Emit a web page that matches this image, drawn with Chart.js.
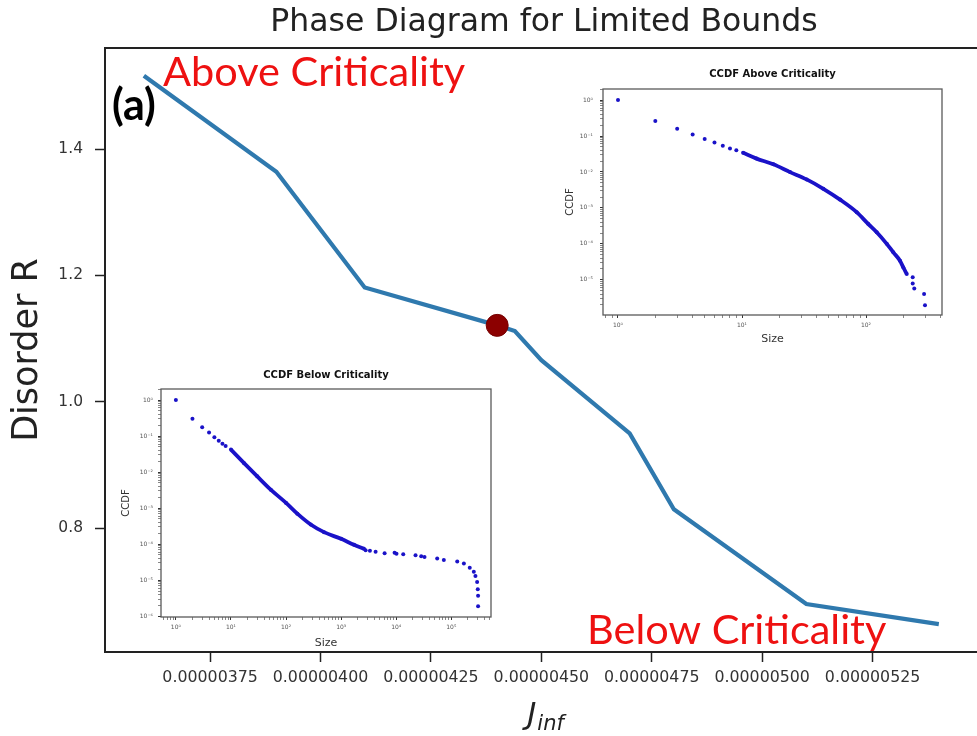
<!DOCTYPE html>
<html><head><meta charset="utf-8">
<script src="https://cdn.jsdelivr.net/npm/chart.js@4.4.1/dist/chart.umd.min.js"></script>
<style>
html,body{margin:0;padding:0;background:#fff;overflow:hidden;width:977px;height:736px;}
#wrap{position:relative;width:977px;height:736px;overflow:hidden;background:#fff;}
canvas{position:absolute;display:block;}
#main{left:0;top:0;}
#insA{left:548px;top:62px;}
#insB{left:112px;top:362px;}
</style></head><body>
<div id="wrap">
<canvas id="main" width="995" height="736"></canvas>
<canvas id="insA" width="425" height="288"></canvas>
<canvas id="insB" width="390" height="290"></canvas>
</div>
<script>
// ---------- main phase diagram ----------
const jInf      = [3.60e-6, 3.90e-6, 4.10e-6, 4.40e-6, 4.44e-6, 4.50e-6, 4.70e-6, 4.80e-6, 5.10e-6, 5.40e-6];
const disorderR = [1.516,   1.364,   1.181,   1.121,   1.112,   1.066,   0.950,   0.830,   0.680,   0.648];
const criticalJ = [4.40e-6];
const criticalR = [1.121];
const xTickValues = [3.75e-6, 4.00e-6, 4.25e-6, 4.50e-6, 4.75e-6, 5.00e-6, 5.25e-6];
const yTickValues = [0.8, 1.0, 1.2, 1.4];

// ---------- inset: CCDF above criticality ----------
const aboveSparseSize = [1, 2, 3, 4, 5, 6, 7, 8, 9];
const aboveSparseCcdf = [1, 0.26, 0.16, 0.11, 0.083, 0.066, 0.054, 0.045, 0.040];
const aboveDenseSize  = [10.2, 13.1, 17.9, 24.4, 33.2, 45.3, 61.7, 84.1, 104, 122, 147, 166, 188, 200, 213];
const aboveDenseCcdf  = [0.034, 0.0235, 0.0163, 0.0099, 0.0062, 0.0034, 0.0017, 7.6e-4, 3.6e-4, 2.1e-4, 1.0e-4, 5.8e-5, 3.4e-5, 2.2e-5, 1.45e-5];
const aboveTailSize   = [238, 238, 245, 294, 299];
const aboveTailCcdf   = [1.17e-5, 7.9e-6, 5.7e-6, 4.0e-6, 1.96e-6];

// ---------- inset: CCDF below criticality ----------
const belowSparseSize = [1, 2, 3, 4, 5, 6, 7, 8];
const belowSparseCcdf = [1, 0.30, 0.175, 0.125, 0.093, 0.074, 0.061, 0.053];
const belowDenseSize  = [10, 17.3, 30, 52.7, 100, 160, 280, 489, 1000, 1710, 2600];
const belowDenseCcdf  = [0.042, 0.0177, 0.0076, 0.00325, 1.39e-3, 7.0e-4, 3.5e-4, 2.15e-4, 1.40e-4, 9.6e-5, 7.4e-5];
const belowTailSize   = [2780, 3330, 4220, 6150, 9330, 10100, 13400, 22400, 28400, 32600, 55400, 73100, 128000, 169000, 216000, 256000, 274000, 294000, 302000, 306000, 306000];
const belowTailCcdf   = [6.8e-5, 6.5e-5, 6.1e-5, 5.6e-5, 5.75e-5, 5.4e-5, 5.2e-5, 4.9e-5, 4.6e-5, 4.4e-5, 4.0e-5, 3.6e-5, 3.3e-5, 2.9e-5, 2.2e-5, 1.7e-5, 1.3e-5, 8.9e-6, 5.6e-6, 3.7e-6, 1.9e-6];

const FONT = "'DejaVu Sans', sans-serif";
const pts = (xs, ys) => xs.map((x, i) => ({x: x, y: ys[i]}));

const mainText = {
  id: 'mainText',
  afterDatasetsDraw(chart) {
    const ctx = chart.ctx;
    ctx.save();
    ctx.fillStyle = '#ee1111';
    ctx.font = "41.5px Lato, 'Open Sans', sans-serif";
    ctx.textBaseline = 'alphabetic';
    ctx.textAlign = 'left';
    ctx.fillText('Above Criticality', 163, 86);
    ctx.fillText('Below Criticality', 587, 644);
    ctx.fillStyle = '#000';
    ctx.font = "bold 43px Lato, 'Open Sans', sans-serif";
    ctx.fillText('(a)', 112, 120);
    ctx.restore();
  },
  afterDraw(chart) {
    const ctx = chart.ctx, a = chart.chartArea;
    ctx.save();
    ctx.strokeStyle = '#222';
    ctx.lineWidth = 2;
    ctx.beginPath();
    ctx.moveTo(a.left, a.top); ctx.lineTo(a.right, a.top);
    ctx.stroke();
    // x-axis title J_inf (J with subscript "inf")
    ctx.fillStyle = '#222';
    ctx.textBaseline = 'alphabetic';
    ctx.textAlign = 'left';
    const fJ = "italic 31px 'DejaVu Sans', sans-serif";
    const fS = "italic 21px 'DejaVu Sans', sans-serif";
    ctx.font = fJ; const wJ = ctx.measureText('J').width;
    ctx.font = fS; const wS = ctx.measureText('inf').width;
    const x0 = 545 - (wJ + wS) / 2;
    ctx.font = fJ; ctx.fillText('J', x0, 724);
    ctx.font = fS; ctx.fillText('inf', x0 + wJ + 1, 730);
    ctx.restore();
  }
};

new Chart(document.getElementById('main'), {
  type: 'scatter',
  data: {
    datasets: [
      {label: 'critical', data: pts(criticalJ, criticalR), pointRadius: 11, pointHoverRadius: 11,
       backgroundColor: '#8c0000', borderColor: '#760000', borderWidth: 1, order: 0},
      {label: 'phase', data: pts(jInf, disorderR), showLine: true, borderColor: '#2f79ae',
       borderWidth: 4.2, pointRadius: 0, tension: 0, fill: false, order: 1, clip: false}
    ]
  },
  options: {
    responsive: false, animation: false, devicePixelRatio: 1,
    layout: {padding: {left: 0, right: 5, top: 0, bottom: 0}},
    plugins: {
      legend: {display: false}, tooltip: {enabled: false},
      title: {display: true, text: 'Phase Diagram for Limited Bounds', fullSize: false,
              color: '#222', font: {family: FONT, size: 31.5, weight: 'normal'}, padding: {top: 4, bottom: 6.2}}
    },
    scales: {
      x: {
        type: 'linear', min: 3.512e-6, max: 5.5e-6,
        afterBuildTicks: s => { s.ticks = xTickValues.map(v => ({value: v})); },
        afterFit: s => { s.height = 84; },
        ticks: {callback: v => Number(v).toFixed(8), font: {family: FONT, size: 15.8}, color: '#333',
                padding: 6, maxRotation: 0, autoSkip: false},
        grid: {drawOnChartArea: false, drawTicks: true, tickLength: 10, tickColor: '#222', tickWidth: 1.5},
        border: {display: true, color: '#222', width: 2},
        title: {display: false}
      },
      y: {
        type: 'linear', min: 0.604, max: 1.56,
        afterBuildTicks: s => { s.ticks = yTickValues.map(v => ({value: v})); },
        afterFit: s => { s.width = 105; },
        ticks: {callback: v => Number(v).toFixed(1), font: {family: FONT, size: 15.5}, color: '#333', padding: 12},
        grid: {drawOnChartArea: false, drawTicks: true, tickLength: 10, tickColor: '#222', tickWidth: 1.5},
        border: {display: true, color: '#222', width: 2},
        title: {display: true, text: 'Disorder R', color: '#222', font: {family: FONT, size: 35}, padding: {top: 7, bottom: 0}}
      }
    }
  },
  plugins: [mainText]
});

// ---------- inset helper ----------
const SUP = {'0':'⁰','1':'¹','2':'²','3':'³','4':'⁴','5':'⁵','6':'⁶','7':'⁷','8':'⁸','9':'⁹','-':'⁻'};
function logTicks(scale) {
  const out = [];
  const lo = Math.floor(Math.log10(scale.min)), hi = Math.ceil(Math.log10(scale.max));
  for (let e = lo; e <= hi; e++) {
    for (let k = 1; k <= 9; k++) {
      const v = k * Math.pow(10, e);
      if (v >= scale.min * 0.9999 && v <= scale.max * 1.0001) out.push({value: v, major: k === 1});
    }
  }
  scale.ticks = out;
}
function logLabel(v) {
  const e = Math.log10(v);
  if (Math.abs(e - Math.round(e)) > 1e-6) return '';
  return '10' + String(Math.round(e)).split('').map(c => SUP[c]).join('');
}
const frame = {
  id: 'frame',
  afterDraw(chart) {
    const a = chart.chartArea, ctx = chart.ctx;
    ctx.save();
    ctx.strokeStyle = '#5a5a5a'; ctx.lineWidth = 1.3;
    ctx.strokeRect(a.left, a.top, a.right - a.left, a.bottom - a.top);
    ctx.restore();
  }
};
function inset(id, o) {
  const dot = '#1a12c8';
  new Chart(document.getElementById(id), {
    type: 'scatter',
    data: {datasets: [
      {data: pts(o.sparseX, o.sparseY), pointRadius: 2, backgroundColor: dot, borderWidth: 0},
      {data: pts(o.denseX, o.denseY), showLine: true, borderColor: dot, borderWidth: 3.8, pointRadius: 2,
       backgroundColor: dot, pointBorderWidth: 0, cubicInterpolationMode: 'monotone'},
      {data: pts(o.tailX, o.tailY), pointRadius: 2, backgroundColor: dot, borderWidth: 0}
    ]},
    options: {
      responsive: false, animation: false, devicePixelRatio: 1,
      layout: {padding: {left: 0, right: o.padRight, top: 0, bottom: 0}},
      plugins: {
        legend: {display: false}, tooltip: {enabled: false},
        title: {display: true, text: o.title, fullSize: false, color: '#111',
                font: {family: FONT, size: 10, weight: 'bold'}, padding: o.titlePad}
      },
      scales: {
        x: {
          type: 'logarithmic', min: o.xMin, max: o.xMax,
          afterBuildTicks: logTicks,
          afterFit: s => { s.height = 35; },
          ticks: {callback: logLabel, font: {family: FONT, size: 6}, color: '#555', padding: 4,
                  maxRotation: 0, autoSkip: false},
          grid: {drawOnChartArea: false, drawTicks: true, tickLength: 3,
                 tickColor: c => (c.tick && c.tick.major) ? '#333' : '#888', tickWidth: 1},
          border: {display: false},
          title: {display: true, text: 'Size', color: '#333', font: {family: FONT, size: 11}, padding: {top: 0, bottom: o.sizePad}}
        },
        y: {
          type: 'logarithmic', min: o.yMin, max: o.yMax,
          afterBuildTicks: logTicks,
          afterFit: s => { s.width = o.yWidth; },
          ticks: {callback: logLabel, font: {family: FONT, size: 6}, color: '#555', padding: o.yTickPad, autoSkip: false},
          grid: {drawOnChartArea: false, drawTicks: true, tickLength: 3,
                 tickColor: c => (c.tick && c.tick.major) ? '#333' : '#888', tickWidth: 1},
          border: {display: false},
          title: {display: true, text: 'CCDF', color: '#333', font: {family: FONT, size: 10}, padding: {top: o.ccdfPad, bottom: 0}}
        }
      }
    },
    plugins: [frame]
  });
}

inset('insA', {
  title: 'CCDF Above Criticality',
  sparseX: aboveSparseSize, sparseY: aboveSparseCcdf,
  denseX: aboveDenseSize, denseY: aboveDenseCcdf,
  tailX: aboveTailSize, tailY: aboveTailCcdf,
  xMin: 0.757, xMax: 410, yMin: 1.05e-6, yMax: 2.03,
  padRight: 31, yWidth: 55, titlePad: {top: 6.6, bottom: 8.4}, ccdfPad: 16, sizePad: 4, yTickPad: 7
});
inset('insB', {
  title: 'CCDF Below Criticality',
  sparseX: belowSparseSize, sparseY: belowSparseCcdf,
  denseX: belowDenseSize, denseY: belowDenseCcdf,
  tailX: belowTailSize, tailY: belowTailCcdf,
  xMin: 0.537, xMax: 525000, yMin: 0.95e-6, yMax: 2.02,
  padRight: 11, yWidth: 49, titlePad: {top: 7.6, bottom: 7.4}, ccdfPad: 8, sizePad: 2, yTickPad: 5
});
</script>
</body></html>
